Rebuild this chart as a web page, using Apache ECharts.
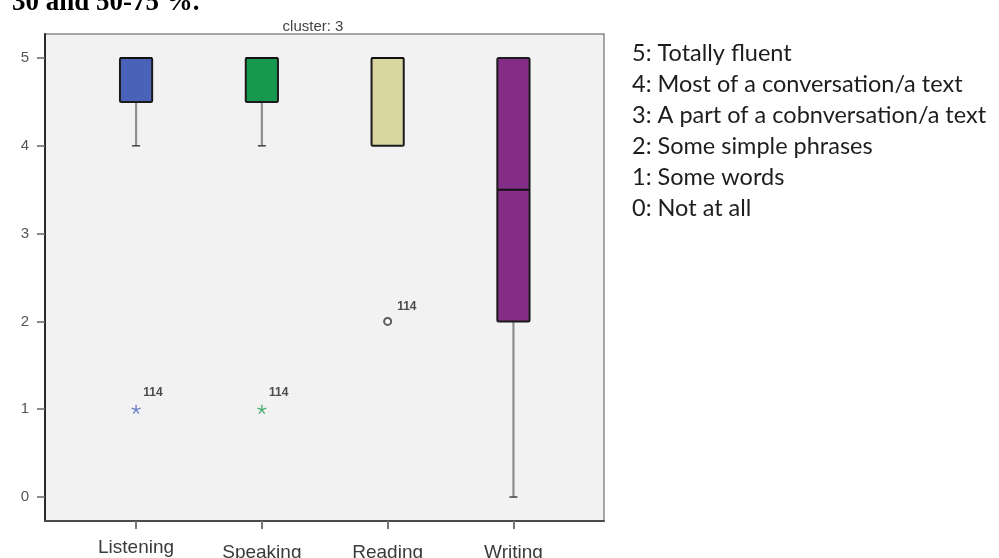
<!DOCTYPE html>
<html>
<head>
<meta charset="utf-8">
<script src="https://cdn.jsdelivr.net/npm/echarts@6/dist/echarts.min.js"></script>
<style>
  html, body { margin: 0; padding: 0; background: #ffffff; }
  #chart { width: 999px; height: 558px; }
</style>
</head>
<body>
<div id="chart"></div>
<script>
// Skills shown on the x axis
const categories = ['Listening', 'Speaking', 'Reading', 'Writing'];

// Five-number summaries per skill: [min, Q1, median, Q3, max]
const listeningStats = [4, 4.5, 5, 5, 5];
const speakingStats  = [4, 4.5, 5, 5, 5];
const readingStats   = [4, 4, 5, 5, 5];
const writingStats   = [0, 2, 3.5, 5, 5];

// Outlying cases: skill position, score, case number
const extremeSkill = [1, 2];      // drawn as asterisks
const extremeValue = [1, 1];
const extremeCase  = ['114', '114'];
const outlierSkill = [3];         // drawn as open circles
const outlierValue = [2];
const outlierCase  = ['114'];

// Value-axis ticks and the answer scale explained beside the chart
const yTicks = [0, 1, 2, 3, 4, 5];
const scaleNotes = [
  '5: Totally fluent',
  '4: Most of a conversation/a text',
  '3: A part of a cobnversation/a text',
  '2: Some simple phrases',
  '1: Some words',
  '0: Not at all'
];
const chartTitle = 'cluster: 3';
const pageFragment = '30 and 50-75 %.';

const boxColors = ['#4a62b8', '#15994f', '#d9d6a0', '#842d87'];
const extremeColors = ['#4f63c4', '#1fa055'];

const allStats = [listeningStats, speakingStats, readingStats, writingStats];
const boxData = allStats.map((s, i) => [i + 1].concat(s));

function renderBox(params, api) {
  const x = api.value(0);
  const pt = v => api.coord([x, v]);
  const cx = pt(api.value(1))[0];
  const yMin = pt(api.value(1))[1];
  const yQ1 = pt(api.value(2))[1];
  const yMed = pt(api.value(3))[1];
  const yQ3 = pt(api.value(4))[1];
  const yMax = pt(api.value(5))[1];
  const half = api.size([1, 0])[0] * 0.128;
  const fill = boxColors[params.dataIndex];
  const children = [];
  const whisker = (y0, y1) => {
    if (Math.abs(y0 - y1) < 0.5) return;
    children.push({ type: 'line', shape: { x1: cx, y1: y0, x2: cx, y2: y1 },
      style: { stroke: '#8e8e8e', lineWidth: 2.2 } });
    children.push({ type: 'line', shape: { x1: cx - 4, y1: y1, x2: cx + 4, y2: y1 },
      style: { stroke: '#4a4a4a', lineWidth: 1.6 } });
  };
  whisker(yQ1, yMin);
  whisker(yQ3, yMax);
  children.push({ type: 'rect',
    shape: { x: cx - half, y: yQ3, width: half * 2, height: yQ1 - yQ3, r: 1.5 },
    style: { fill: fill, stroke: '#1c1c1c', lineWidth: 2 } });
  children.push({ type: 'line', shape: { x1: cx - half, y1: yMed, x2: cx + half, y2: yMed },
    style: { stroke: '#111111', lineWidth: 2 } });
  return { type: 'group', children: children };
}

const chart = echarts.init(document.getElementById('chart'), null, { renderer: 'canvas' });

chart.setOption({
  backgroundColor: '#ffffff',
  animation: false,
  title: {
    text: chartTitle,
    left: 308, top: 14, textAlign: 'center',
    textStyle: { fontFamily: 'Liberation Sans Narrow, Liberation Sans, Arial', fontSize: 15,
      fontWeight: 'normal', color: '#444444' }
  },
  grid: {
    left: 45, top: 34, width: 559, height: 487,
    containLabel: false, outerBoundsMode: 'none',
    show: true, backgroundColor: '#f2f2f2', borderColor: '#8a8a8a', borderWidth: 1.5
  },
  xAxis: {
    type: 'value', min: 0.276, max: 4.72,
    splitLine: { show: false },
    axisLine: { show: true, onZero: false, lineStyle: { color: '#4a4a4a', width: 2 } },
    axisTick: { show: true, length: 8, customValues: [1, 2, 3, 4],
      lineStyle: { color: '#777777', width: 2 } },
    axisLabel: {
      customValues: [1, 2, 3, 4],
      margin: 17,
      fontFamily: 'Liberation Sans, Arial', fontSize: 19, color: '#3a3a3a',
      formatter: v => (v === 1 ? '{up|' : '{dn|') + categories[v - 1] + '}',
      rich: {
        up: { fontFamily: 'Liberation Sans, Arial', fontSize: 19, color: '#3a3a3a' },
        dn: { fontFamily: 'Liberation Sans, Arial', fontSize: 19, color: '#3a3a3a', padding: [5, 0, 0, 0] }
      }
    }
  },
  yAxis: {
    type: 'value', min: -0.273, max: 5.273,
    splitLine: { show: false },
    axisLine: { show: true, onZero: false, lineStyle: { color: '#2a2a2a', width: 2 } },
    axisTick: { show: true, length: 8, customValues: yTicks,
      lineStyle: { color: '#666666', width: 1.5 } },
    axisLabel: { customValues: yTicks, margin: 16, fontFamily: 'Liberation Sans, Arial',
      fontSize: 15, color: '#555555' }
  },
  series: [
    {
      type: 'custom',
      renderItem: renderBox,
      encode: { x: 0, y: [1, 2, 3, 4, 5] },
      data: boxData,
      z: 3
    },
    {
      type: 'scatter',
      symbol: 'path://M5 5 L5 0 M5 5 L9.76 3.45 M5 5 L7.94 9.05 M5 5 L2.06 9.05 M5 5 L0.24 3.45',
      symbolSize: 9,
      data: extremeSkill.map((x, i) => ({
        value: [x, extremeValue[i]],
        caseId: extremeCase[i],
        itemStyle: { color: 'transparent', borderColor: extremeColors[i], borderWidth: 1.4 }
      })),
      label: {
        show: true, position: 'right', offset: [-3, -17],
        formatter: p => p.data.caseId,
        fontFamily: 'Liberation Sans, Arial', fontSize: 12, fontWeight: 'bold', color: '#222222'
      },
      z: 4
    },
    {
      type: 'scatter',
      symbol: 'emptyCircle',
      symbolSize: 7,
      itemStyle: { color: '#333333', borderWidth: 1.3 },
      data: outlierSkill.map((x, i) => ({ value: [x, outlierValue[i]], caseId: outlierCase[i] })),
      label: {
        show: true, position: 'right', offset: [0, -15],
        formatter: p => p.data.caseId,
        fontFamily: 'Liberation Sans, Arial', fontSize: 12, fontWeight: 'bold', color: '#222222'
      },
      z: 4
    }
  ],
  graphic: [
    {
      type: 'text', left: 12, top: -10,
      style: { text: pageFragment, font: 'bold 27px "Liberation Serif", "Times New Roman", serif',
        fill: '#000000' }
    },
    {
      type: 'group', left: 632, top: 41,
      children: scaleNotes.map((t, i) => ({
        type: 'text', x: 0, y: i * 31,
        style: { text: t, font: '23.5px Lato, "Open Sans", sans-serif', fill: '#1d1d1d' }
      }))
    }
  ]
});
</script>
</body>
</html>
